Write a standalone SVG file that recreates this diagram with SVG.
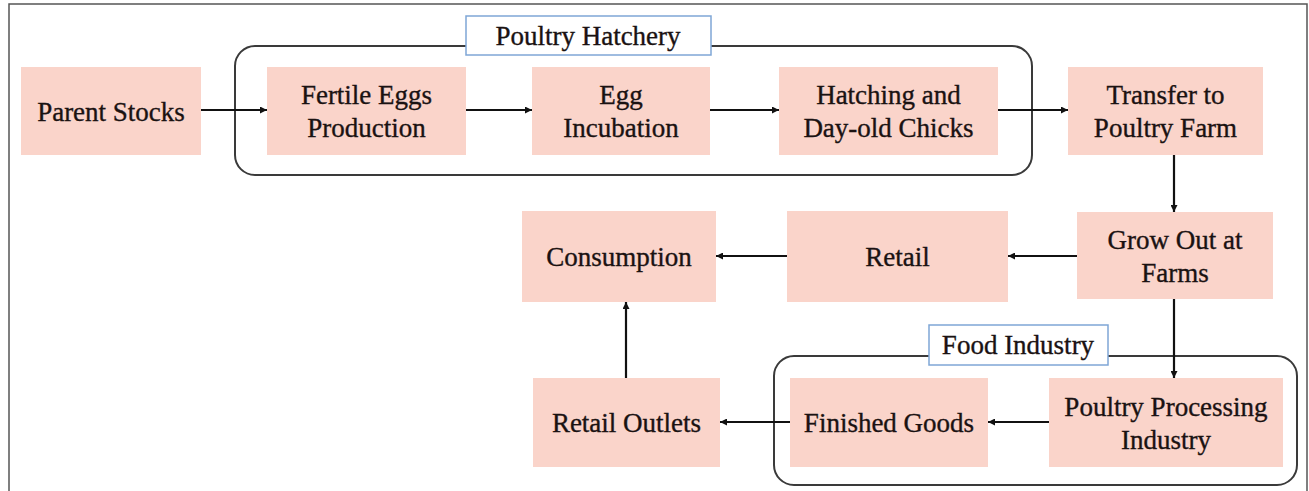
<svg xmlns="http://www.w3.org/2000/svg" width="1309" height="491" viewBox="0 0 1309 491">
  <defs>
    <marker id="arr" viewBox="0 0 10 10" refX="10" refY="5" markerWidth="8" markerHeight="7" markerUnits="userSpaceOnUse" orient="auto">
      <path d="M0,0 L10,5 L0,10 Z" fill="#111"/>
    </marker>
  </defs>
  <style>
    .box { fill: #fad4ca; }
    .t { font-family: "Liberation Serif", "Times New Roman", serif; font-size: 27px; fill: #1a1212; stroke: #1a1212; stroke-width: 0.35; text-anchor: middle; }
    .grp { fill: none; stroke: #3a3a3a; stroke-width: 2; }
    .lbl { fill: #ffffff; stroke: #7fa6d6; stroke-width: 1.5; }
    .edge { fill: none; stroke: #111; stroke-width: 2.2; marker-end: url(#arr); }
  </style>
  <rect x="0" y="0" width="1309" height="491" fill="#ffffff"/>
  <rect x="9" y="4" width="1298" height="520" fill="none" stroke="#555" stroke-width="1.5"/>

  <g id="group-hatchery">
    <rect class="grp" x="235" y="46" width="797" height="129" rx="20"/>
    <rect class="lbl" x="466" y="16" width="245" height="39"/>
    <text class="t" x="588" y="45">Poultry Hatchery</text>
  </g>
  <g id="group-food">
    <rect class="grp" x="774" y="356" width="523" height="129" rx="20"/>
    <rect class="lbl" x="929" y="325" width="179" height="40"/>
    <text class="t" x="1018" y="354">Food Industry</text>
  </g>

  <g id="connectors">
    <line class="edge" x1="201" y1="110" x2="267" y2="110"/>
    <line class="edge" x1="466" y1="110" x2="532" y2="110"/>
    <line class="edge" x1="710" y1="110" x2="779" y2="110"/>
    <line class="edge" x1="998" y1="110" x2="1068" y2="110"/>
    <line class="edge" x1="1174" y1="155" x2="1174" y2="212"/>
    <line class="edge" x1="1077" y1="256" x2="1008" y2="256"/>
    <line class="edge" x1="787" y1="256" x2="716" y2="256"/>
    <line class="edge" x1="1174" y1="299" x2="1174" y2="378"/>
    <line class="edge" x1="1049" y1="422" x2="988" y2="422"/>
    <line class="edge" x1="790" y1="422" x2="720" y2="422"/>
    <line class="edge" x1="626" y1="378" x2="626" y2="302"/>
  </g>

  <g id="parent-stocks">
    <rect class="box" x="21" y="67" width="180" height="88"/>
    <text class="t" x="111" y="121">Parent Stocks</text>
  </g>
  <g id="fertile-eggs">
    <rect class="box" x="267" y="67" width="199" height="88"/>
    <text class="t" x="366.5" y="104">Fertile Eggs</text>
    <text class="t" x="366.5" y="137">Production</text>
  </g>
  <g id="egg-incubation">
    <rect class="box" x="532" y="67" width="178" height="88"/>
    <text class="t" x="621" y="104">Egg</text>
    <text class="t" x="621" y="137">Incubation</text>
  </g>
  <g id="hatching">
    <rect class="box" x="779" y="67" width="219" height="88"/>
    <text class="t" x="888.5" y="104">Hatching and</text>
    <text class="t" x="888.5" y="137">Day-old Chicks</text>
  </g>
  <g id="transfer">
    <rect class="box" x="1068" y="67" width="195" height="88"/>
    <text class="t" x="1165.5" y="104">Transfer to</text>
    <text class="t" x="1165.5" y="137">Poultry Farm</text>
  </g>
  <g id="consumption">
    <rect class="box" x="522" y="211" width="194" height="91"/>
    <text class="t" x="619" y="266">Consumption</text>
  </g>
  <g id="retail">
    <rect class="box" x="787" y="211" width="221" height="91"/>
    <text class="t" x="897.5" y="266">Retail</text>
  </g>
  <g id="grow-out">
    <rect class="box" x="1077" y="212" width="196" height="87"/>
    <text class="t" x="1175" y="249">Grow Out at</text>
    <text class="t" x="1175" y="282">Farms</text>
  </g>
  <g id="retail-outlets">
    <rect class="box" x="533" y="378" width="187" height="89"/>
    <text class="t" x="626.5" y="432">Retail Outlets</text>
  </g>
  <g id="finished-goods">
    <rect class="box" x="790" y="378" width="198" height="89"/>
    <text class="t" x="889" y="432">Finished Goods</text>
  </g>
  <g id="processing">
    <rect class="box" x="1049" y="378" width="234" height="89"/>
    <text class="t" x="1166" y="416">Poultry Processing</text>
    <text class="t" x="1166" y="449">Industry</text>
  </g>
</svg>
